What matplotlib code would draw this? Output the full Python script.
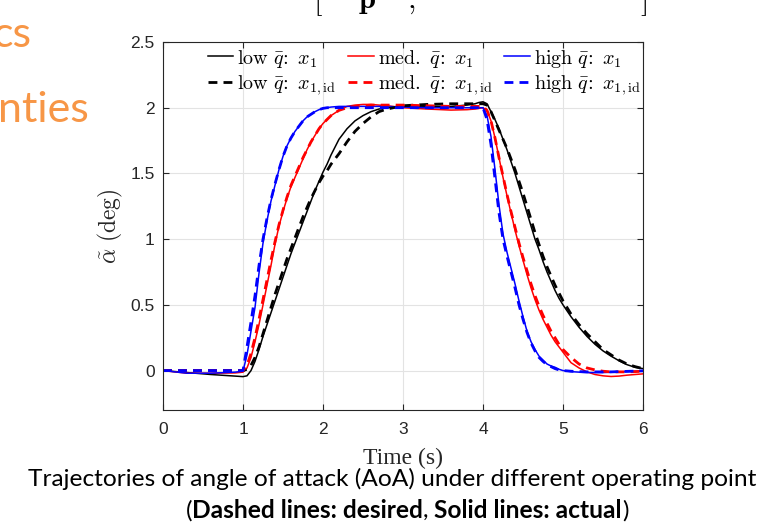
import matplotlib
matplotlib.use("Agg")
import matplotlib.pyplot as plt

plt.rcParams['mathtext.fontset'] = 'cm'

# ---------------- data ----------------
time_s = [0, 0.3, 0.6, 0.9,
          1.0, 1.05, 1.1, 1.15, 1.2, 1.25, 1.3, 1.35, 1.4, 1.45, 1.5, 1.55, 1.6, 1.65, 1.7,
          1.75, 1.8, 1.85, 1.9, 1.95, 2.0, 2.05, 2.1,
          2.2, 2.3, 2.4, 2.5, 2.6, 2.7, 2.8,
          3.0, 3.3, 3.6, 3.8, 3.9, 3.95,
          4.0, 4.05, 4.1, 4.15, 4.2, 4.25, 4.3, 4.35, 4.4, 4.45, 4.5, 4.55, 4.6, 4.65, 4.7,
          4.75, 4.8, 4.85, 4.9, 4.95, 5.0,
          5.1, 5.2, 5.3, 5.4, 5.5, 5.6, 5.7, 5.8, 5.9, 6.0]

low_x1 = [0, -0.015, -0.03, -0.042,
          -0.046, -0.04, 0.0, 0.07, 0.16, 0.26, 0.35, 0.44, 0.53, 0.62, 0.71, 0.8, 0.89, 0.97, 1.05,
          1.13, 1.21, 1.29, 1.37, 1.44, 1.51, 1.57, 1.64,
          1.76, 1.84, 1.9, 1.94, 1.97, 1.99, 2.0,
          2.01, 2.01, 2.01, 2.02, 2.03, 2.04,
          2.045, 2.03, 1.97, 1.91, 1.84, 1.76, 1.68, 1.59, 1.5, 1.4, 1.3, 1.2, 1.1, 1.0, 0.92,
          0.83, 0.75, 0.68, 0.61, 0.55, 0.5,
          0.41, 0.33, 0.26, 0.2, 0.15, 0.11, 0.075, 0.045, 0.025, 0.015]

low_x1id = [0, 0, 0, 0,
            0.0, 0.01, 0.04, 0.1, 0.18, 0.28, 0.38, 0.48, 0.58, 0.67, 0.76, 0.85, 0.93, 1.01, 1.09,
            1.17, 1.24, 1.31, 1.37, 1.43, 1.48, 1.52, 1.57,
            1.65, 1.74, 1.82, 1.88, 1.93, 1.97, 1.99,
            2.015, 2.025, 2.03, 2.03, 2.03, 2.03,
            2.03, 2.02, 1.97, 1.9, 1.83, 1.76, 1.69, 1.61, 1.53, 1.44, 1.35, 1.25, 1.15, 1.05, 0.96,
            0.87, 0.79, 0.72, 0.65, 0.59, 0.53,
            0.43, 0.35, 0.28, 0.22, 0.16, 0.12, 0.08, 0.05, 0.03, 0.015]

med_x1 = [0, -0.02, -0.02, -0.018,
          -0.012, 0.02, 0.1, 0.22, 0.35, 0.5, 0.65, 0.8, 0.96, 1.1, 1.21, 1.31, 1.4, 1.47, 1.54,
          1.61, 1.68, 1.74, 1.79, 1.84, 1.88, 1.91, 1.94,
          1.98, 2.01, 2.02, 2.025, 2.025, 2.02, 2.015,
          2.0, 1.99, 1.982, 1.985, 1.99, 1.995,
          2.0, 1.98, 1.9, 1.77, 1.62, 1.47, 1.33, 1.2, 1.07, 0.95, 0.84, 0.73, 0.63, 0.54, 0.46,
          0.39, 0.33, 0.27, 0.22, 0.18, 0.14,
          0.06, 0.02, -0.01, -0.03, -0.04, -0.045, -0.042, -0.035, -0.03, -0.025]

med_x1id = [0, 0, 0, 0,
            0.0, 0.04, 0.13, 0.25, 0.39, 0.54, 0.69, 0.84, 0.98, 1.11, 1.22, 1.32, 1.41, 1.48, 1.55,
            1.62, 1.68, 1.74, 1.79, 1.84, 1.88, 1.91, 1.94,
            1.98, 2.0, 2.01, 2.015, 2.02, 2.02, 2.02,
            2.02, 2.015, 2.01, 2.01, 2.01, 2.01,
            2.01, 1.98, 1.9, 1.77, 1.62, 1.48, 1.34, 1.21, 1.09, 0.97, 0.86, 0.76, 0.66, 0.57, 0.49,
            0.42, 0.36, 0.3, 0.25, 0.2, 0.16,
            0.1, 0.05, 0.02, 0.005, -0.005, -0.01, -0.01, -0.01, -0.008, -0.005]

high_x1 = [0, -0.02, -0.02, -0.012,
           -0.005, 0.12, 0.3, 0.48, 0.74, 0.97, 1.14, 1.29, 1.41, 1.53, 1.63, 1.71, 1.77, 1.82, 1.86,
           1.9, 1.93, 1.95, 1.97, 1.985, 1.995, 2.0, 2.005,
           2.01, 2.01, 2.01, 2.01, 2.01, 2.01, 2.01,
           2.005, 2.0, 2.0, 2.0, 2.0, 2.0,
           2.0, 1.94, 1.78, 1.53, 1.26, 1.04, 0.9, 0.78, 0.66, 0.53, 0.41, 0.3, 0.22, 0.16, 0.11,
           0.08, 0.05, 0.035, 0.025, 0.01, 0.0,
           -0.008, -0.012, -0.015, -0.015, -0.015, -0.013, -0.01, -0.008, -0.005, 0.0]

high_x1id = [0, 0, 0, 0,
             0.0, 0.18, 0.37, 0.57, 0.8, 1.0, 1.16, 1.3, 1.42, 1.53, 1.63, 1.71, 1.77, 1.82, 1.86,
             1.9, 1.93, 1.95, 1.97, 1.985, 1.995, 2.0, 2.0,
             2.0, 2.0, 2.0, 2.0, 2.0, 2.0, 2.0,
             2.0, 2.0, 2.0, 2.0, 2.0, 2.0,
             2.0, 1.91, 1.72, 1.46, 1.2, 1.0, 0.87, 0.75, 0.63, 0.5, 0.39, 0.29, 0.21, 0.15, 0.1,
             0.07, 0.045, 0.03, 0.015, 0.005, 0.0,
             -0.005, -0.008, -0.01, -0.01, -0.01, -0.01, -0.008, -0.006, -0.004, -0.002]

x_ticks = [0, 1, 2, 3, 4, 5, 6]
y_ticks = [0, 0.5, 1, 1.5, 2, 2.5]
y_tick_labels = ['0', '0.5', '1', '1.5', '2', '2.5']

labels_actual = [r'$\mathrm{low}\ \bar{q}\!{:}\ x_1$',
                 r'$\mathrm{med.}\ \bar{q}\!{:}\ x_1$',
                 r'$\mathrm{high}\ \bar{q}\!{:}\ x_1$']
labels_desired = [r'$\mathrm{low}\ \bar{q}\!{:}\ x_{1,\mathrm{id}}$',
                  r'$\mathrm{med.}\ \bar{q}\!{:}\ x_{1,\mathrm{id}}$',
                  r'$\mathrm{high}\ \bar{q}\!{:}\ x_{1,\mathrm{id}}$']
colors = ['#000000', '#ff0000', '#0000ff']

# ---------------- figure ----------------
W, H = 760, 530
fig = plt.figure(figsize=(W / 100, H / 100), dpi=100)
fig.patch.set_facecolor('white')
ax = fig.add_axes([163 / W, 120 / H, 480 / W, 368 / H])

actual = [low_x1, med_x1, high_x1]
desired = [low_x1id, med_x1id, high_x1id]
solid_lines, dash_lines = [], []
for vals, c, lab in zip(actual, colors, labels_actual):
    ln, = ax.plot(time_s, vals, color=c, lw=1.1, label=lab, solid_joinstyle='round')
    solid_lines.append(ln)
for vals, c, lab in zip(desired, colors, labels_desired):
    ln, = ax.plot(time_s, vals, color=c, lw=2.0, ls=(0, (3.2, 2.2)), label=lab)
    dash_lines.append(ln)

ax.set_xlim(0, 6)
ax.set_ylim(-0.3, 2.5)
ax.set_xticks(x_ticks)
ax.set_xticklabels([str(v) for v in x_ticks])
ax.set_yticks(y_ticks)
ax.set_yticklabels(y_tick_labels)
ax.grid(True, color='#e3e3e3', lw=0.8)
ax.set_axisbelow(True)
ax.tick_params(direction='in', top=True, right=True, length=4, width=0.8,
               colors='#262626', labelsize=12.5)
ax.tick_params(axis='x', pad=9)
ax.tick_params(axis='y', pad=6)
for lab in ax.get_xticklabels() + ax.get_yticklabels():
    lab.set_family('Liberation Sans')
for sp in ax.spines.values():
    sp.set_color('#262626')
    sp.set_linewidth(0.8)

handles = [solid_lines[0], dash_lines[0], solid_lines[1], dash_lines[1],
           solid_lines[2], dash_lines[2]]
leg = ax.legend(handles=handles, labels=[h.get_label() for h in handles],
                ncol=3, loc='upper left', bbox_to_anchor=(0.094, 0.985),
                frameon=False, fontsize=14.5, handlelength=1.25, handletextpad=0.2,
                columnspacing=0.6, borderpad=0, borderaxespad=0, labelspacing=0.2)

fig.text(403 / W, 1 - 458 / H, 'Time (s)', family='Liberation Serif', fontsize=17,
         ha='center', va='center', color='#262626')
fig.text(110 / W, 1 - 226 / H, r'$\tilde{\alpha}\ \mathrm{(deg)}$', fontsize=17,
         rotation=90, ha='center', va='center', color='#262626')

# ---- slide remnants ----
orange = '#F79646'
fig.text(-8 / W, 1 - 47 / H, 'cs', family='Lato', fontsize=31, color=orange,
         ha='left', va='baseline')
fig.text(-2 / W, 1 - 122 / H, 'nties', family='Lato', fontsize=31, color=orange,
         ha='left', va='baseline')
for s, xp in [(r'$[$', 313), (r'$\mathbf{p}$', 358), (r'$,$', 407), (r'$]$', 640)]:
    fig.text(xp / W, 1 - 8 / H, s, fontsize=22, ha='left', va='baseline', color='black')

# ---- caption ----
renderer = fig.canvas.get_renderer()
line1 = 'Trajectories of angle of attack (AoA) under different operating point'
probe = fig.text(0, 0, line1, family='Lato', fontsize=10)
w10 = probe.get_window_extent(renderer).width
probe.remove()
cap_size = 10 * 729 / w10
fig.text(28 / W, 1 - 486 / H, line1, family='Lato', fontsize=cap_size,
         ha='left', va='baseline', color='black')

pieces = [('(', 'normal'), ('Dashed lines: desired', 'bold'), (',', 'normal'),
          (' Solid lines: actual', 'bold'), (')', 'normal')]
objs = []
total = 0
for s, wgt in pieces:
    t = fig.text(0, 1 - 518 / H, s, family='Lato', fontsize=cap_size, weight=wgt,
                 ha='left', va='baseline', color='black')
    w = t.get_window_extent(renderer).width
    objs.append((t, w))
    total += w
x = 407 - total / 2
for t, w in objs:
    t.set_x(x / W)
    x += w

fig.savefig('out.png', dpi=100, facecolor='white')
